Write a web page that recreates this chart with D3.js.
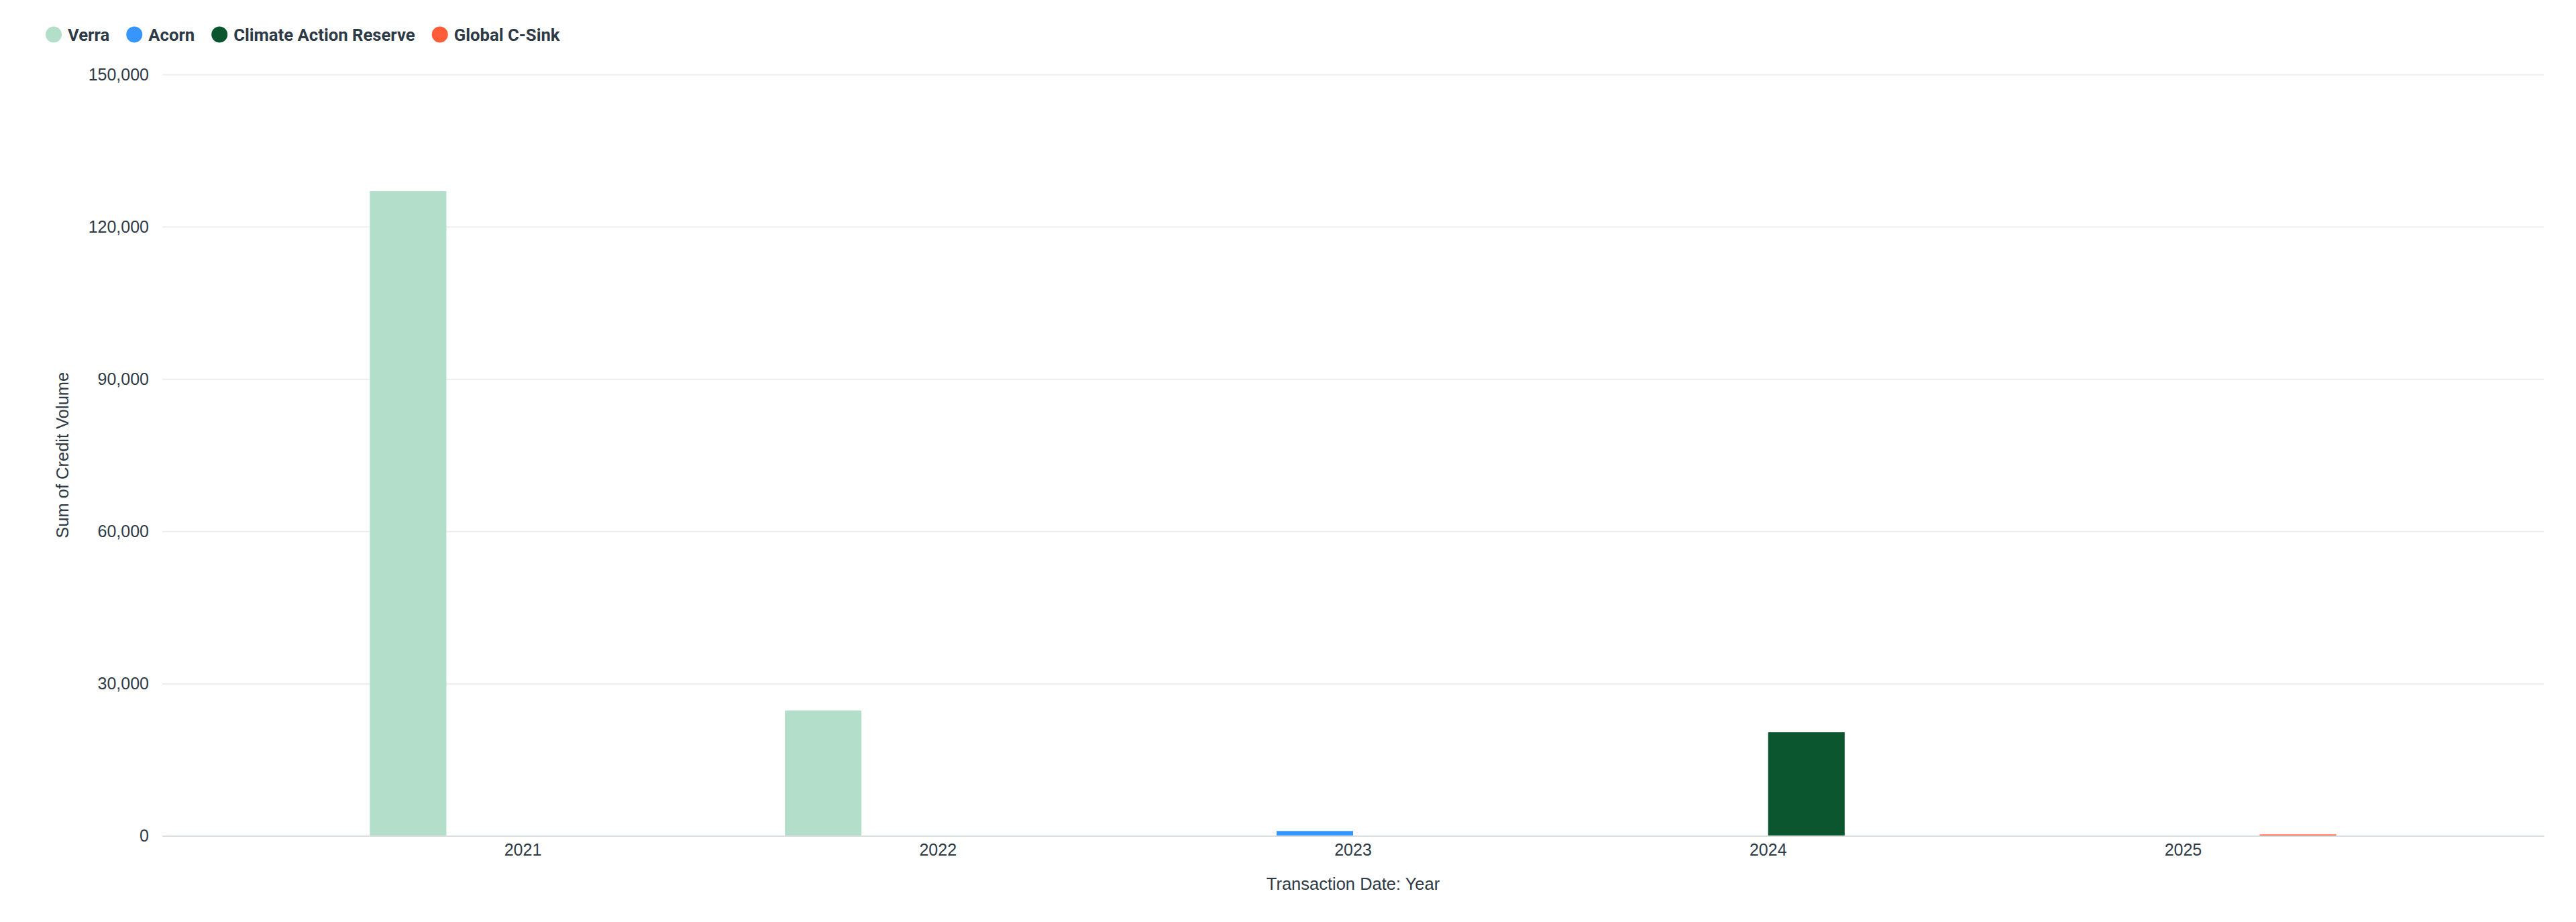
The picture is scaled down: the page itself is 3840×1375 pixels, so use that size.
<!DOCTYPE html>
<html>
<head>
<meta charset="utf-8">
<script src="https://cdn.jsdelivr.net/npm/d3@7"></script>
<style>
  body { margin: 0; background: #fff; }
  svg { display: block; }
</style>
</head>
<body>
<svg id="chart" width="3840" height="1375"></svg>
<script>
const years = ['2021', '2022', '2023', '2024', '2025'];
const seriesNames = ['Verra', 'Acorn', 'Climate Action Reserve', 'Global C-Sink'];
const verra = [127000, 24700, 0, 0, 0];
const acorn = [0, 0, 950, 0, 0];
const climateActionReserve = [0, 0, 0, 20400, 0];
const globalCSink = [0, 0, 0, 0, 280];
const yTicks = [0, 30000, 60000, 90000, 120000, 150000];
const seriesColors = ['#b3dfca', '#3796fd', '#0b552f', '#ff5c39'];

const seriesValues = [verra, acorn, climateActionReserve, globalCSink];
const textColor = '#2e3a46';

const svg = d3.select('#chart');
const plotLeft = 242, plotRight = 3792, plotTop = 111, plotBottom = 1246.5;

const x0 = d3.scaleBand().domain(years).range([plotLeft, plotRight])
  .paddingInner(0.2625).paddingOuter(0.5);
const x1 = d3.scaleBand().domain(seriesNames).range([0, x0.bandwidth()]);
const y = d3.scaleLinear().domain([0, 150000]).range([plotBottom, plotTop]);
const color = d3.scaleOrdinal().domain(seriesNames).range(seriesColors);

// grid + y labels
const yAxis = svg.append('g')
  .attr('transform', `translate(${plotLeft},0)`)
  .call(d3.axisLeft(y).tickValues(yTicks).tickSize(-(plotRight - plotLeft)).tickPadding(20).tickFormat(d3.format(',')));
yAxis.select('.domain').remove();
yAxis.selectAll('.tick line').attr('stroke', '#eeeeee').attr('stroke-width', 2);
yAxis.selectAll('.tick text')
  .attr('fill', textColor)
  .style('font', '25px "Liberation Sans", Arial, sans-serif');

// bars
const rows = [];
years.forEach((yr, i) => {
  seriesNames.forEach((s, j) => {
    if (seriesValues[j][i] > 0) rows.push({ year: yr, name: s, value: seriesValues[j][i] });
  });
});

svg.append('g')
  .selectAll('rect')
  .data(rows)
  .join('rect')
  .attr('x', d => x0(d.year) + x1(d.name))
  .attr('y', d => y(d.value))
  .attr('width', x1.bandwidth())
  .attr('height', d => y(0) - y(d.value))
  .attr('fill', d => color(d.name));

// x axis
const xAxis = svg.append('g')
  .attr('transform', `translate(0,${plotBottom})`)
  .call(d3.axisBottom(x0).tickSize(0).tickPadding(12));
xAxis.select('.domain').attr('stroke', '#dcdfe0').attr('stroke-width', 2);
xAxis.selectAll('.tick text')
  .attr('fill', textColor)
  .style('font', '25px "Liberation Sans", Arial, sans-serif');

// axis titles
svg.append('text')
  .attr('x', (plotLeft + plotRight) / 2)
  .attr('y', 1318)
  .attr('text-anchor', 'middle')
  .attr('dominant-baseline', 'central')
  .attr('fill', textColor)
  .style('font', '25.5px "Liberation Sans", Arial, sans-serif')
  .text('Transaction Date: Year');

svg.append('text')
  .attr('transform', `translate(93,${(plotTop + plotBottom) / 2}) rotate(-90)`)
  .attr('text-anchor', 'middle')
  .attr('dominant-baseline', 'central')
  .attr('fill', textColor)
  .style('font', '25.5px "Liberation Sans", Arial, sans-serif')
  .text('Sum of Credit Volume');

// legend
const legend = svg.append('g').attr('transform', 'translate(80,51.5)');
let lx = 0;
seriesNames.forEach(name => {
  const item = legend.append('g').attr('transform', `translate(${lx},0)`);
  item.append('circle').attr('r', 12).attr('fill', color(name));
  const t = item.append('text')
    .attr('x', 21)
    .attr('dominant-baseline', 'central')
    .attr('fill', textColor)
    .style('font', 'bold 25.7px Roboto, sans-serif')
    .text(name);
  lx += 21 + t.node().getComputedTextLength() + 37;
});
</script>
</body>
</html>
